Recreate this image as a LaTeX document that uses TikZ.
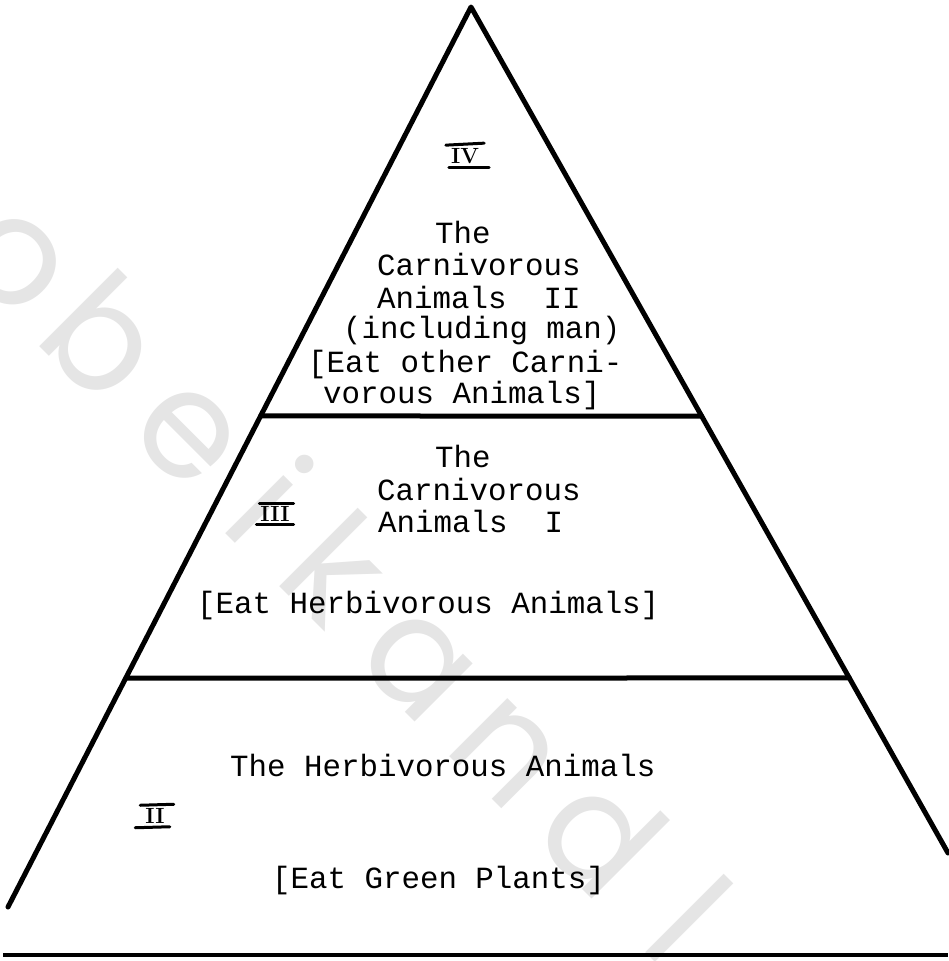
\documentclass[tikz,border=0pt]{standalone}
\usepackage{fontspec}
\setmonofont{Liberation Mono}
\newfontfamily\wmfont{Poppins}
\usetikzlibrary{calc}
\begin{document}
\begin{tikzpicture}[x=1pt,y=-1pt,
  txt/.style={font=\ttfamily\fontsize{30.8}{32}\selectfont, inner sep=0pt, anchor=base west},
  edgeline/.style={line width=5pt, line cap=round, line join=round},
  num/.style={font=\bfseries\fontsize{22}{22}\selectfont, inner sep=0pt},
  bar/.style={line width=3pt, line cap=round},
  wm/.style={font=\wmfont\fontsize{150}{150}\selectfont, text=black!10, rotate=-45, inner sep=0pt, anchor=base}]
\useasboundingbox (0,0) rectangle (948,961);
% watermark
\node[wm] (w1) at (-16,291) {o};
\node[wm] (w2) at (67,374) {b};
\node[wm] (w3) at (157,464) {e};
\node[wm] (w4) at (231,539) {i};
\node[wm] (w5) at (299,606) {k};
\node[wm] (w6) at (387,694) {a};
\node[wm] (w7) at (475,782) {n};
\node[wm] (w8) at (564,871) {d};
\node[wm] (w9) at (651,958) {l};
% pyramid
\coordinate (apex) at (471,7);
\coordinate (bl) at (8,907);
\coordinate (br) at (948,853);
\draw[edgeline] (bl) -- (apex) -- (br);
\coordinate (l1) at ($(apex)!0.4544!(bl)$);
\coordinate (r1) at ($(apex)!0.4835!(br)$);
\coordinate (l2) at ($(apex)!0.7456!(bl)$);
\coordinate (r2) at ($(apex)!0.7931!(br)$);
\draw[edgeline] (l1) -- (r1);
\draw[edgeline] (l2) -- (r2);
\coordinate (g1) at (3,955);
\coordinate (g2) at (948,955);
\draw[line width=4.5pt] (g1) -- (g2);
% top level
\node[txt] (t1) at (435,243) {The};
\node[txt] (t2) at (377,275) {Carnivorous};
\node[txt] (t3) at (377,308) {Animals\ \ II};
\node[txt] (t4) at (343,338) {(including man)};
\node[txt] (t5) at (308,372) {[Eat other Carni-};
\node[txt] (t6) at (323,403) {vorous Animals]};
% middle level
\node[txt] (m1) at (435,467) {The};
\node[txt] (m2) at (377,500) {Carnivorous};
\node[txt] (m3) at (378,532) {Animals\ \ I};
\node[txt] (m4) at (197,613) {[Eat Herbivorous Animals]};
% bottom level
\node[txt] (b1) at (230,776) {The Herbivorous Animals};
\node[txt] (b2) at (272,888) {[Eat Green Plants]};
% numerals
\node[num] (n4) at (465,156) {IV};
\draw[bar] ($(n4.north west)+(-5,-3)$) -- ($(n4.north east)+(5,-5)$);
\draw[bar] ($(n4.south west)+(-2,4)$) -- ($(n4.south east)+(10,4)$);
\node[num] (n3) at (275,514) {III};
\draw[bar] ($(n3.north west)+(-1,-3)$) -- ($(n3.north east)+(4,-3)$);
\draw[bar] ($(n3.south west)+(-4,3)$) -- ($(n3.south east)+(4,3)$);
\node[num] (n2) at (155,816) {II};
\draw[bar] ($(n2.north west)+(-5,-3)$) -- ($(n2.north east)+(9,-4)$);
\draw[bar] ($(n2.south west)+(-10,4)$) -- ($(n2.south east)+(5,3)$);
\end{tikzpicture}
\end{document}
